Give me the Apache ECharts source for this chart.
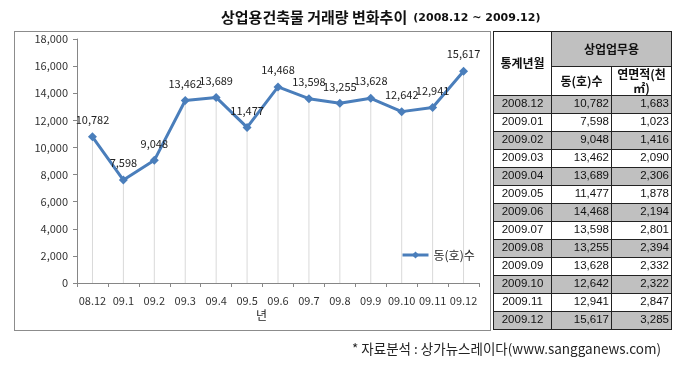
<!DOCTYPE html>
<html>
<head>
<meta charset="utf-8">
<script src="https://cdn.jsdelivr.net/npm/echarts@6/dist/echarts.min.js"></script>
<style>
  html, body { margin: 0; padding: 0; background: #fff; }
  #wrap { position: relative; width: 688px; height: 367px; overflow: hidden; }
  #chart { position: absolute; left: 0; top: 0; width: 688px; height: 367px; }
  #box { position: absolute; left: 14px; top: 31px; width: 475px; height: 298px; border: 1px solid #8c8c8c; box-sizing: content-box; }
  #tbl { position: absolute; left: 493px; top: 31px; border-collapse: collapse; table-layout: fixed;
         font-family: "Noto Sans CJK KR", "Liberation Sans", sans-serif; font-size: 11.5px; color: #111; }
  #tbl td { border: 1px solid #222; padding: 0 2px; overflow: hidden; white-space: nowrap; line-height: 1; }
  #tbl td.h { font-weight: bold; text-align: center; font-size: 12px; }
  #tbl td.m { text-align: center; font-family: "Liberation Sans", sans-serif; }
  #tbl td.n { text-align: right; font-family: "Liberation Sans", sans-serif; }
  #tbl tr.g td { background: #c0c0c0; }
</style>
</head>
<body>
<div id="wrap">
  <div id="box"></div>
  <div id="chart"></div>
  <table id="tbl"></table>
</div>
<script>
// ---- data ----
var categories = ['08.12','09.1','09.2','09.3','09.4','09.5','09.6','09.7','09.8','09.9','09.10','09.11','09.12'];
var unitCounts = [10782, 7598, 9048, 13462, 13689, 11477, 14468, 13598, 13255, 13628, 12642, 12941, 15617];
var tableMonths = ['2008.12','2009.01','2009.02','2009.03','2009.04','2009.05','2009.06','2009.07','2009.08','2009.09','2009.10','2009.11','2009.12'];
var floorArea = [1683, 1023, 1416, 2090, 2306, 1878, 2194, 2801, 2394, 2332, 2322, 2847, 3285];
var seriesName = '동(호)수';
var titleMain = '상업용건축물 거래량 변화추이';
var titleSub = '(2008.12 ~ 2009.12)';
var xAxisName = '년';
var sourceNote = '* 자료분석 : 상가뉴스레이다(www.sangganews.com)';

function fmt(v) { return Number(v).toLocaleString('en-US'); }

// ---- table ----
(function () {
  var t = document.getElementById('tbl');
  var html = '';
  html += '<colgroup><col style="width:58px"><col style="width:60px"><col style="width:60px"></colgroup>';
  html += '<tr style="height:35px"><td class="h" rowspan="2" style="background:#fff">통계년월</td>' +
          '<td class="h" colspan="2" style="background:#c0c0c0">상업업무용</td></tr>';
  html += '<tr style="height:26px"><td class="h" style="background:#fff">동(호)수</td>' +
          '<td class="h" style="background:#fff;white-space:normal;line-height:1.15">연면적(천<br>㎡)</td></tr>';
  for (var i = 0; i < tableMonths.length; i++) {
    html += '<tr class="' + (i % 2 === 0 ? 'g' : '') + '" style="height:18px">' +
            '<td class="m">' + tableMonths[i] + '</td>' +
            '<td class="n">' + fmt(unitCounts[i]) + '</td>' +
            '<td class="n">' + fmt(floorArea[i]) + '</td></tr>';
  }
  t.innerHTML = html;
})();

// ---- chart ----
var chart = echarts.init(document.getElementById('chart'), null, { renderer: 'canvas' });
var font = '"Noto Sans CJK KR", "Noto Sans", sans-serif';
chart.setOption({
  backgroundColor: 'transparent',
  animation: false,
  textStyle: { fontFamily: font },
  title: {
    text: '{a|' + titleMain + '} {b|' + titleSub + '}',
    left: 221, top: 8, padding: 0,
    textStyle: {
      rich: {
        a: { fontSize: 15, fontWeight: 'bold', color: '#111', fontFamily: font },
        b: { fontSize: 11, fontWeight: 'bold', color: '#111', fontFamily: '"DejaVu Sans", sans-serif', padding: [3, 0, 0, 2] }
      }
    }
  },
  legend: {
    data: [seriesName],
    left: 396, top: 244,
    itemWidth: 26, itemHeight: 9, itemGap: 4,
    lineStyle: { width: 3 },
    textStyle: { fontSize: 12, color: '#222', fontFamily: font }
  },
  grid: { left: 77, right: 209, top: 39, bottom: 84, containLabel: false },
  xAxis: {
    type: 'category',
    data: categories,
    boundaryGap: true,
    axisLine: { lineStyle: { color: '#868686', width: 1 } },
    axisTick: { show: true, length: 4, lineStyle: { color: '#868686' } },
    axisLabel: { fontSize: 11, color: '#333', margin: 12, interval: 0, fontFamily: font },
    splitLine: { show: false }
  },
  yAxis: {
    type: 'value',
    min: 0, max: 18000, interval: 2000,
    axisLine: { show: true, lineStyle: { color: '#868686', width: 1 } },
    axisTick: { show: true, length: 4, lineStyle: { color: '#868686' } },
    axisLabel: { fontSize: 11, color: '#333', margin: 9, formatter: function (v) { return fmt(v); }, fontFamily: font },
    splitLine: { show: false }
  },
  graphic: [
    { type: 'text', left: 256, top: 309, style: { text: xAxisName, fontSize: 12, fill: '#222', fontFamily: font } },
    { type: 'text', left: 352, top: 342, style: { text: sourceNote, fontSize: 13.5, fill: '#222', fontFamily: font } }
  ],
  series: [
    {
      name: 'drop',
      type: 'bar',
      data: unitCounts,
      barWidth: 1,
      silent: true,
      itemStyle: { color: '#d9d9d9' },
      z: 1
    },
    {
      name: seriesName,
      type: 'line',
      data: unitCounts,
      symbol: 'diamond',
      symbolSize: 9,
      lineStyle: { color: '#4A7EBB', width: 3 },
      itemStyle: { color: '#4A7EBB' },
      label: {
        show: true, position: 'top', distance: 7,
        fontSize: 11, color: '#222', fontFamily: font,
        formatter: function (p) { return fmt(p.value); }
      },
      z: 3
    }
  ]
});
</script>
</body>
</html>
